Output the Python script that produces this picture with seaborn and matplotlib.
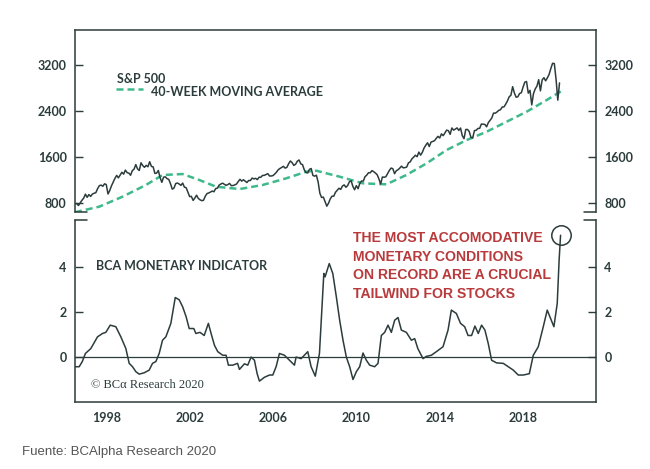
import numpy as np
import pandas as pd
import matplotlib
matplotlib.use("Agg")
import matplotlib.pyplot as plt
import seaborn as sns

# S&P 500 monthly closes, Jan 1997 .. Apr 2020
sp500_start = 1997
sp500 = [
    786, 791, 757, 801, 848, 885, 954, 899, 947, 915, 955, 970,
    980, 1049, 1101, 1112, 1091, 1134, 1121, 957, 1017, 1099, 1164, 1229,
    1280, 1238, 1286, 1335, 1302, 1373, 1329, 1320, 1283, 1363, 1389, 1469,
    1394, 1366, 1499, 1452, 1421, 1455, 1431, 1518, 1437, 1429, 1315, 1320,
    1366, 1240, 1160, 1249, 1256, 1224, 1211, 1134, 1041, 1060, 1139, 1148,
    1130, 1107, 1147, 1076, 1067, 990, 912, 916, 845, 886, 936, 880,
    856, 841, 848, 917, 964, 975, 990, 1008, 996, 1051, 1058, 1112,
    1131, 1145, 1126, 1107, 1121, 1141, 1102, 1104, 1115, 1130, 1174, 1212,
    1181, 1204, 1181, 1157, 1192, 1191, 1234, 1220, 1229, 1207, 1249, 1248,
    1280, 1281, 1295, 1311, 1270, 1270, 1277, 1304, 1336, 1378, 1401, 1418,
    1438, 1407, 1421, 1482, 1531, 1503, 1455, 1474, 1527, 1549, 1481, 1468,
    1379, 1331, 1323, 1386, 1400, 1280, 1267, 1283, 1165, 969, 896, 903,
    826, 745, 798, 873, 919, 919, 987, 1021, 1057, 1036, 1096, 1115,
    1074, 1104, 1169, 1187, 1089, 1031, 1102, 1049, 1141, 1183, 1181, 1258,
    1286, 1327, 1326, 1364, 1345, 1321, 1292, 1219, 1131, 1253, 1247, 1258,
    1312, 1366, 1408, 1398, 1310, 1362, 1379, 1407, 1441, 1412, 1416, 1426,
    1498, 1515, 1569, 1598, 1631, 1606, 1686, 1633, 1682, 1757, 1806, 1848,
    1783, 1859, 1872, 1884, 1924, 1960, 1931, 2003, 1972, 2018, 2068, 2059,
    1995, 2105, 2068, 2086, 2107, 2063, 2104, 1972, 1920, 2079, 2080, 2044,
    1940, 1932, 2060, 2065, 2097, 2099, 2174, 2171, 2168, 2126, 2199, 2239,
    2279, 2364, 2363, 2384, 2412, 2423, 2470, 2472, 2519, 2575, 2648, 2674,
    2824, 2714, 2641, 2648, 2705, 2718, 2816, 2902, 2914, 2712, 2760, 2507,
    2704, 2784, 2834, 2946, 2752, 2942, 2980, 2926, 2977, 3038, 3141, 3231,
    3226, 2954, 2590, 2890,
]

# 40-week moving average
ma_years = [1997.0, 1998.16, 1999.28, 2000.4, 2001.2, 2002.16, 2002.97, 2003.77,
            2004.9, 2006.0, 2007.13, 2008.1, 2008.58, 2009.2, 2009.7, 2010.82,
            2011.94, 2012.9, 2013.87, 2014.83, 2015.8, 2016.75, 2017.71,
            2018.67, 2019.63, 2020.35]
ma_values = [640, 736, 910, 1113, 1287, 1304, 1200, 1084,
             1043, 1113, 1229, 1345, 1362, 1304, 1258, 1142,
             1125, 1287, 1490, 1722, 1896, 2040, 2214,
             2388, 2591, 2750]

# BCA monetary indicator
mi_years = [1997.0, 1997.2, 1997.35, 1997.5, 1997.76, 1998.08, 1998.32, 1998.48, 1998.69,
            1998.96, 1999.2, 1999.44, 1999.6, 1999.76, 1999.92, 2000.08, 2000.32,
            2000.56, 2000.72, 2000.88, 2001.04, 2001.2, 2001.36, 2001.6, 2001.81,
            2002.0, 2002.16, 2002.33, 2002.48, 2002.7, 2002.8, 2003.0, 2003.2,
            2003.4, 2003.53, 2003.69, 2003.85, 2004.09, 2004.25, 2004.36, 2004.57,
            2004.8, 2004.89, 2005.13, 2005.29, 2005.45, 2005.61, 2005.74, 2005.85,
            2006.09, 2006.33, 2006.49, 2006.65, 2006.81, 2007.05, 2007.29, 2007.53,
            2007.61, 2007.85, 2008.17, 2008.33, 2008.53, 2008.73, 2008.94, 2009.0,
            2009.2, 2009.37, 2009.54, 2009.7, 2009.86, 2010.02, 2010.18, 2010.34,
            2010.5, 2010.66, 2010.82, 2010.98, 2011.14, 2011.38, 2011.54, 2011.7,
            2011.86, 2012.02, 2012.18, 2012.34, 2012.5, 2012.66, 2012.9, 2013.14,
            2013.3, 2013.45, 2013.7, 2013.86, 2014.1, 2014.34, 2014.66, 2014.9,
            2015.06, 2015.3, 2015.5, 2015.7, 2015.86, 2016.03, 2016.19, 2016.35,
            2016.51, 2016.67, 2016.83, 2016.99, 2017.23, 2017.55, 2017.79, 2018.03,
            2018.27, 2018.51, 2018.8, 2018.99, 2019.23, 2019.47, 2019.66, 2019.82,
            2019.98, 2020.14, 2020.23, 2020.3]
mi_values = [-0.43, -0.43, -0.2, 0.16, 0.38, 0.9, 1.05, 1.1, 1.42,
             1.35, 0.9, 0.38, -0.28, -0.43, -0.65, -0.76, -0.7,
             -0.58, -0.28, -0.2, 0.16, 0.75, 0.9, 1.5, 2.65,
             2.55, 2.25, 1.8, 1.27, 1.27, 1.05, 1.1, 0.96,
             1.5, 1.05, 0.53, 0.24, 0.08, 0.08, -0.36, -0.36,
             -0.28, -0.55, -0.3, -0.36, 0.0, -0.14, -0.74, -1.07,
             -0.9, -0.8, -0.8, -0.43, 0.16, 0.08, -0.14, -0.36,
             0.0, -0.07, 0.24, -0.43, -0.85, 0.16, 3.72, 3.57,
             4.16, 3.72, 2.68, 1.64, 0.75, 0.0, -0.43, -1.0,
             -0.65, -0.43, 0.18, -0.14, -0.36, -0.43, -0.28, 0.96,
             1.1, 1.42, 1.1, 1.64, 1.76, 1.2, 1.1, 0.75,
             0.82, 0.38, -0.07, 0.03, 0.08, 0.24, 0.46, 1.2,
             2.09, 1.94, 1.5, 1.35, 0.96, 0.96, 1.38, 1.05,
             1.42, 1.2, 0.6, -0.14, -0.26, -0.28, -0.43, -0.58,
             -0.8, -0.8, -0.74, 0.08, 0.46, 1.35, 2.09, 1.72,
             1.35, 2.39, 4.31, 5.42]

top_ticks = [800, 1600, 2400, 3200]
bottom_ticks = [0, 2, 4]
year_labels = [1998, 2002, 2006, 2010, 2014, 2018]

DARK = "#2c3c3c"
GREEN = "#3fb98b"
RED = "#b83a3c"

sns.set_style("white")
plt.rcParams['font.family'] = ['Lato', 'DejaVu Sans']

sp_df = pd.DataFrame({"year": sp500_start + np.arange(len(sp500)) / 12.0, "value": sp500})
ma_df = pd.DataFrame({"year": ma_years, "value": ma_values})
mi_df = pd.DataFrame({"year": mi_years, "value": mi_values})

fig = plt.figure(figsize=(6.5, 4.69), dpi=100)
ax1 = fig.add_axes([75 / 650, 1 - 212.5 / 469, 521 / 650, 182.5 / 469])
ax2 = fig.add_axes([75 / 650, 1 - 402 / 469, 521 / 650, 182 / 469])

# top panel
sns.lineplot(data=ma_df, x="year", y="value", ax=ax1, color=GREEN, lw=1.8,
             dashes=False, linestyle=(0, (2.8, 1.6)))
sns.lineplot(data=sp_df, x="year", y="value", ax=ax1, color=DARK, lw=1.1)
ax1.set_xlim(1997, 2022)
ax1.set_ylim(635, 3810)
ax1.set_yticks(top_ticks)
ax1.set_xticks([])

# bottom panel
ax2.axhline(0, color=DARK, lw=0.9)
sns.lineplot(data=mi_df, x="year", y="value", ax=ax2, color=DARK, lw=1.1)
ax2.plot(mi_years[-1], mi_values[-1], marker="o", ms=14, mfc="none", mec=DARK, mew=1.1)
ax2.set_xlim(1997, 2022)
ax2.set_ylim(-2.0, 6.1)
ax2.set_yticks(bottom_ticks)
ax2.set_xticks(range(1997, 2022))
ax2.set_xticklabels([])
ax2.set_xticks([y + 0.5 for y in year_labels], minor=True)
ax2.set_xticklabels([str(y) for y in year_labels], minor=True)

for ax in (ax1, ax2):
    ax.set_xlabel("")
    ax.set_ylabel("")
    for s in ax.spines.values():
        s.set_color(DARK)
        s.set_linewidth(1.1)
    ax.tick_params(axis="y", which="both", direction="in", length=6, width=1.0,
                   color=DARK, left=True, right=True, labelleft=True, labelright=True,
                   labelsize=9, labelcolor=DARK, pad=6)
    for lab in ax.get_yticklabels():
        lab.set_fontweight("bold")

ax1.spines["bottom"].set_visible(False)
ax2.spines["top"].set_visible(False)
ax2.tick_params(axis="x", which="major", direction="in", length=6, width=1.0, color=DARK)
ax2.tick_params(axis="x", which="minor", length=0, labelsize=9, labelcolor=DARK, pad=7)
for lab in ax2.get_xticklabels(minor=True):
    lab.set_fontweight("bold")

# break marks between the panels
brk = 12 / 521
for ax, yy in ((ax1, 0.0), (ax2, 1.0)):
    ax.plot([0, brk], [yy, yy], transform=ax.transAxes, color=DARK, lw=1.1, clip_on=False)
    ax.plot([1 - brk, 1], [yy, yy], transform=ax.transAxes, color=DARK, lw=1.1, clip_on=False)

# legend-ish labels
ax1.text(0.081, 0.732, "S&P 500", transform=ax1.transAxes, fontsize=9,
         fontweight="bold", color=DARK, va="center", ha="left")
ax1.plot([0.079, 0.131], [0.677, 0.677], transform=ax1.transAxes, color=GREEN,
         lw=1.8, linestyle=(0, (2.8, 1.6)))
ax1.text(0.146, 0.660, "40-WEEK MOVING AVERAGE", transform=ax1.transAxes, fontsize=9,
         fontweight="bold", color=DARK, va="center", ha="left")

ax2.text(0.040, 0.747, "BCA MONETARY INDICATOR", transform=ax2.transAxes, fontsize=9,
         fontweight="bold", color=DARK, va="center", ha="left")
ax2.text(0.031, 0.093, "© BCα Research 2020", transform=ax2.transAxes, fontsize=9,
         family=["Liberation Serif", "DejaVu Serif"], color=DARK, va="center", ha="left")
ax2.text(0.534, 0.94,
         "THE MOST ACCOMODATIVE\nMONETARY CONDITIONS\nON RECORD ARE A CRUCIAL\nTAILWIND FOR STOCKS",
         transform=ax2.transAxes, fontsize=10.1, fontweight="bold", color=RED,
         family=["Liberation Sans", "DejaVu Sans"], va="top", ha="left", linespacing=1.42)

fig.text(22 / 650, 1 - 452 / 469, "Fuente: BCAlpha Research 2020", fontsize=9.5,
         color="#555555", family=["Liberation Sans", "DejaVu Sans"], va="center", ha="left")

fig.savefig("out.png", dpi=100)
